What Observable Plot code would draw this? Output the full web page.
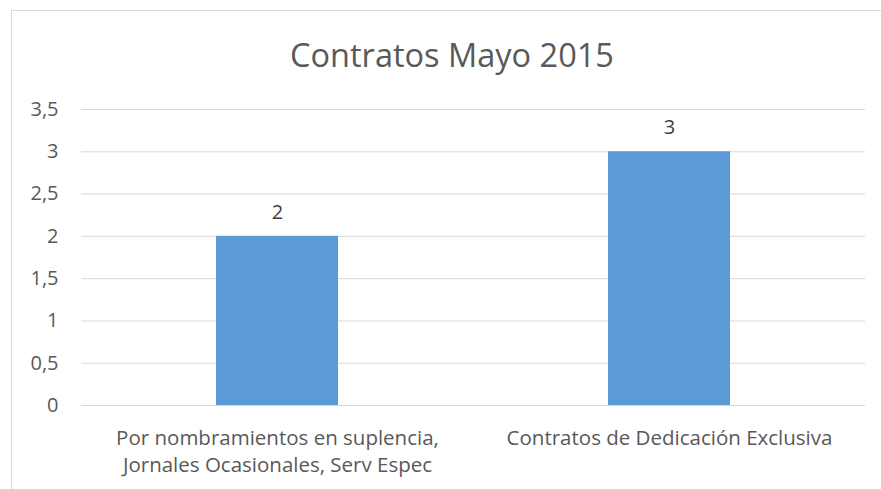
<!DOCTYPE html>
<html>
<head>
<meta charset="utf-8">
<script src="https://cdn.jsdelivr.net/npm/d3@7"></script>
<script src="https://cdn.jsdelivr.net/npm/@observablehq/plot@0.6"></script>
<style>
  html, body { margin: 0; padding: 0; background: #fff; }
  #wrap { position: relative; width: 881px; height: 489px; overflow: hidden; font-family: "Open Sans", sans-serif; }
  #frame { position: absolute; left: 11px; top: 10px; width: 900px; height: 520px; border: 1px solid #d9d9d9; box-sizing: border-box; }
  #title { position: absolute; left: 11px; width: 882px; top: 33px; text-align: center; font-size: 32.5px; color: #595959; line-height: 44px; }
  #chart { position: absolute; left: 0; top: 0; }
</style>
</head>
<body>
<div id="wrap">
  <div id="frame"></div>
  <div id="title">Contratos Mayo 2015</div>
  <div id="chart"></div>
</div>
<script>
const categories = [
  "Por nombramientos en suplencia, Jornales Ocasionales, Serv Espec",
  "Contratos de Dedicación Exclusiva"
];
const tickLabels = [
  "Por nombramientos en suplencia,\nJornales Ocasionales, Serv Espec",
  "Contratos de Dedicación Exclusiva"
];
const values = [2, 3];
const yTicks = [0, 0.5, 1, 1.5, 2, 2.5, 3, 3.5];

const data = categories.map((c, i) => ({category: c, value: values[i]}));
const fmt = v => String(v).replace(".", ",");

const chart = Plot.plot({
  width: 881,
  height: 489,
  marginLeft: 81,
  marginRight: 16,
  marginTop: 109,
  marginBottom: 84,
  style: {fontFamily: "'Open Sans', sans-serif", fontSize: "20px", color: "#595959", background: "transparent"},
  x: {domain: categories, paddingInner: 0.689, paddingOuter: 0.3445, label: null},
  y: {domain: [0, 3.5], label: null},
  marks: [
    Plot.gridY(yTicks, {stroke: "#d9d9d9", strokeOpacity: 1, strokeWidth: 1}),
    Plot.axisY(yTicks, {tickSize: 0, tickPadding: 23, tickFormat: fmt, fill: "#595959", fontSize: 20, label: null}),
    Plot.axisX({tickSize: 0, tickPadding: 20, tickFormat: (d) => tickLabels[categories.indexOf(d)], fill: "#595959", fontSize: 20.5, lineHeight: 1.32, label: null}),
    Plot.barY(data, {x: "category", y: "value", fill: "#5b9bd5"}),
    Plot.text(data, {x: "category", y: "value", text: d => fmt(d.value), dy: -24, fill: "#404040", fontSize: 20})
  ]
});
document.getElementById("chart").appendChild(chart);
</script>
</body>
</html>
